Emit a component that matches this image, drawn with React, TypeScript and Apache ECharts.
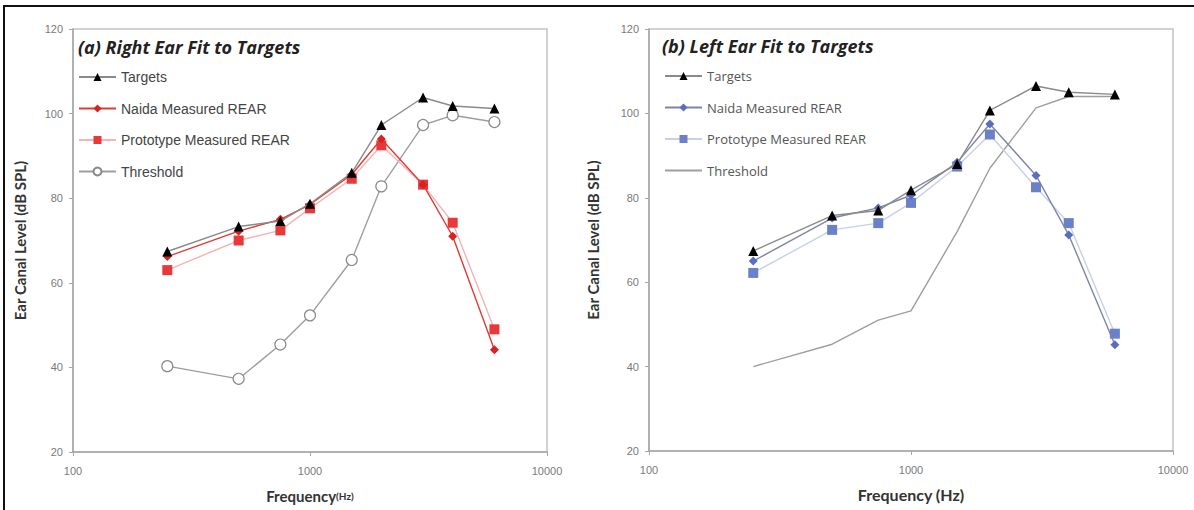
import React, { useEffect, useRef } from "react";
import * as echarts from "echarts";

const frequencies = [250, 500, 750, 1000, 1500, 2000, 3000, 4000, 6000];
const xTickLabels = ["100", "1000", "10000"];
const yTicks = [20, 40, 60, 80, 100, 120];

const rightTargets = [67.4, 73.3, 74.6, 78.7, 86.0, 97.3, 103.8, 101.8, 101.2];
const rightNaida = [66.2, 72.2, 75.0, 78.5, 85.6, 94.0, 83.2, 71.0, 44.2];
const rightPrototype = [63.0, 70.0, 72.4, 77.6, 84.6, 92.5, 83.2, 74.2, 49.0];
const rightThreshold = [40.3, 37.3, 45.4, 52.3, 65.4, 82.8, 97.3, 99.6, 98.0];

const leftTargets = [67.4, 75.8, 77.0, 81.8, 88.0, 100.7, 106.5, 105.0, 104.5];
const leftNaida = [65.0, 75.2, 77.6, 80.6, 88.4, 97.5, 85.3, 71.2, 45.2];
const leftPrototype = [62.2, 72.4, 74.0, 78.8, 87.4, 95.0, 82.5, 74.0, 47.8];
const leftThreshold = [40.0, 45.3, 51.0, 53.2, 72.0, 87.0, 101.3, 104.0, 104.0];

const seriesNames = ["Targets", "Naida Measured REAR", "Prototype Measured REAR", "Threshold"];

const pairs = (ys: number[]) => frequencies.map((f, i) => [f, ys[i]]);

export default function App() {
  const ref = useRef<HTMLDivElement>(null);
  useEffect(() => {
    if (!ref.current) return;
    const chart = echarts.init(ref.current, undefined, { renderer: "svg" });

    const mkX = (gridIndex: number, rich: boolean) => ({
      type: "log",
      gridIndex,
      logBase: 10,
      min: 100,
      max: 10000,
      name: rich ? "{a|Frequency}{b|(Hz)}" : "Frequency (Hz)",
      nameLocation: "middle",
      nameGap: rich ? 36 : 35,
      nameTextStyle: rich
        ? {
            rich: {
              a: { fontFamily: "Lato", fontWeight: "bold", fontSize: 15, color: "#333" },
              b: { fontFamily: "Lato", fontWeight: "bold", fontSize: 10, color: "#333" },
            },
          }
        : { fontFamily: "Lato", fontWeight: "bold", fontSize: 16, color: "#333" },
      axisLine: { show: true, lineStyle: { color: "#a6a6a6", width: 1.5 } },
      axisTick: { show: true, inside: false, length: 4, lineStyle: { color: "#a6a6a6" } },
      minorTick: { show: false },
      splitLine: { show: false },
      axisLabel: {
        margin: 13,
        color: "#7a7a7a",
        fontFamily: "Liberation Sans",
        fontSize: 11,
        formatter: (v: number) => {
          const s = String(Math.round(v));
          return xTickLabels.includes(s) ? s : "";
        },
      },
    });

    const mkY = (gridIndex: number, gap: number) => ({
      type: "value",
      gridIndex,
      min: yTicks[0],
      max: yTicks[yTicks.length - 1],
      interval: 20,
      name: "Ear Canal Level (dB SPL)",
      nameLocation: "middle",
      nameGap: gap,
      nameTextStyle: { fontFamily: "Lato", fontWeight: "bold", fontSize: 15, color: "#333" },
      axisLine: { show: true, lineStyle: { color: "#a6a6a6", width: 1.5 } },
      axisTick: { show: true, inside: false, length: 4, lineStyle: { color: "#a6a6a6" } },
      splitLine: { show: false },
      axisLabel: { margin: 10, color: "#7a7a7a", fontFamily: "Liberation Sans", fontSize: 11 },
    });

    const mkSeries = (
      gi: number,
      data: number[][],
      name: string,
      lineColor: string,
      symbol: string,
      size: number,
      fill: string,
      border?: string,
      z = 2
    ) => ({
      type: "line",
      name,
      xAxisIndex: gi,
      yAxisIndex: gi,
      data,
      symbol,
      symbolSize: size,
      showSymbol: symbol !== "none",
      z,
      lineStyle: { color: lineColor, width: 1.4 },
      itemStyle: border
        ? { color: fill, borderColor: border, borderWidth: 1.2 }
        : { color: fill, borderWidth: 0 },
      emphasis: { disabled: true },
    });

    const legendBase = {
      orient: "vertical",
      itemWidth: 37,
      itemHeight: 10,
      itemGap: 17.5,
      padding: 0,
      selectedMode: false,
    };

    chart.setOption({
      animation: false,
      backgroundColor: "#ffffff",
      title: [
        {
          text: "(a) Right Ear Fit to Targets",
          left: 78,
          top: 38,
          padding: 0,
          textStyle: { fontFamily: "Open Sans", fontStyle: "italic", fontWeight: "bold", fontSize: 18, color: "#222" },
        },
        {
          text: "(b) Left Ear Fit to Targets",
          left: 662,
          top: 37,
          padding: 0,
          textStyle: { fontFamily: "Open Sans", fontStyle: "italic", fontWeight: "bold", fontSize: 18, color: "#222" },
        },
      ],
      legend: [
        {
          ...legendBase,
          left: 78,
          top: 70,
          data: seriesNames.map((n) => ({ name: n })),
          textStyle: { fontFamily: "Liberation Sans", fontSize: 14, color: "#444", lineHeight: 14 },
        },
        {
          ...legendBase,
          left: 664,
          top: 69,
          data: seriesNames.map((n, i) =>
            i === 3 ? { name: n + " ", itemStyle: { opacity: 0 } } : { name: n + " " }
          ),
          textStyle: { fontFamily: "Open Sans", fontSize: 13, color: "#555", lineHeight: 14 },
        },
      ],
      grid: [
        { left: 73, top: 29, width: 474, height: 423, show: true, borderColor: "#c4c4c4", borderWidth: 1.5, backgroundColor: "transparent" },
        { left: 649, top: 29, width: 524, height: 422, show: true, borderColor: "#c4c4c4", borderWidth: 1.5, backgroundColor: "transparent" },
      ],
      xAxis: [mkX(0, true), mkX(1, false)],
      yAxis: [mkY(0, 45.5), mkY(1, 48.5)],
      series: [
        mkSeries(0, pairs(rightThreshold), seriesNames[3], "#9e9e9e", "circle", 11, "#ffffff", "#8a8a8a", 1),
        mkSeries(0, pairs(rightPrototype), seriesNames[2], "#f5b3b3", "rect", 10, "#e8383a", undefined, 2),
        mkSeries(0, pairs(rightNaida), seriesNames[1], "#e03a36", "diamond", 9, "#d82222", undefined, 3),
        mkSeries(0, pairs(rightTargets), seriesNames[0], "#8a8a8a", "triangle", 10, "#000000", undefined, 4),
        mkSeries(1, pairs(leftThreshold), seriesNames[3] + " ", "#9e9e9e", "none", 0, "#9e9e9e", undefined, 1),
        mkSeries(1, pairs(leftPrototype), seriesNames[2] + " ", "#c6d0e8", "rect", 10, "#6a80c8", undefined, 2),
        mkSeries(1, pairs(leftNaida), seriesNames[1] + " ", "#7d86a6", "diamond", 9, "#5a6ebf", undefined, 3),
        mkSeries(1, pairs(leftTargets), seriesNames[0] + " ", "#8a8a8a", "triangle", 10, "#000000", undefined, 4),
      ],
      graphic: [
        { type: "line", shape: { x1: 4, y1: 6, x2: 1194, y2: 6 }, style: { stroke: "#111", lineWidth: 2 } },
        { type: "line", shape: { x1: 4, y1: 5, x2: 4, y2: 510 }, style: { stroke: "#111", lineWidth: 2 } },
      ],
    });

    return () => chart.dispose();
  }, []);

  return (
    <div
      ref={ref}
      style={{ position: "fixed", left: 0, top: 0, width: 1194, height: 510, background: "#fff" }}
    />
  );
}
